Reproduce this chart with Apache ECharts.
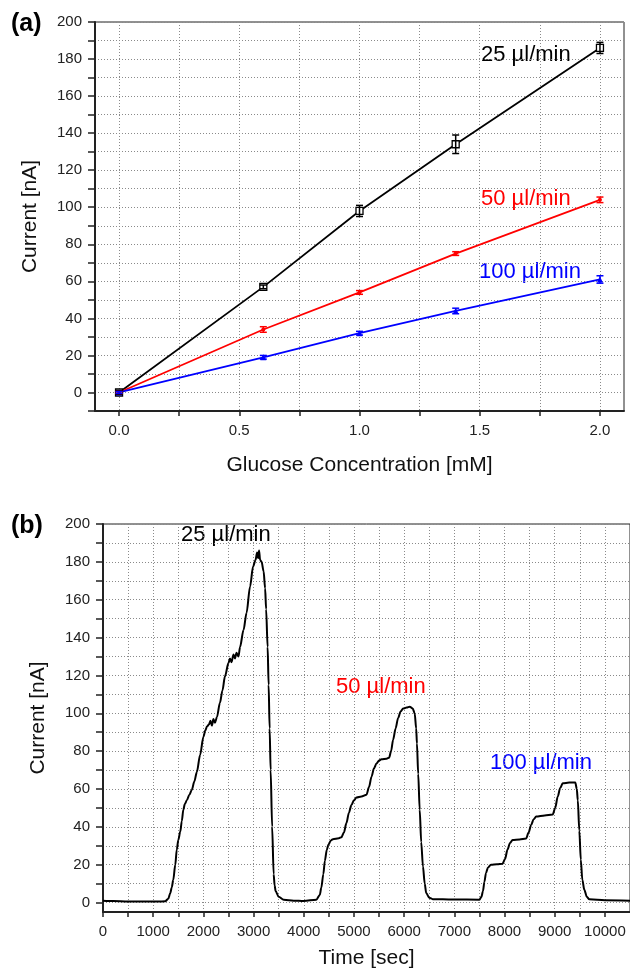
<!DOCTYPE html>
<html>
<head>
<meta charset="utf-8">
<script src="https://cdn.jsdelivr.net/npm/echarts@6/dist/echarts.min.js"></script>
<style>
  html, body { margin: 0; padding: 0; background: #fff; }
  #main { width: 630px; height: 973px; }
</style>
</head>
<body>
<div id="main"></div>
<script>
// (a) calibration data
var conc = [0, 0.6, 1.0, 1.4, 2.0];
var cur25 = [0, 57, 98, 134, 186];
var err25 = [1, 1, 3, 5, 3];
var cur50 = [0, 34, 54, 75, 104];
var err50 = [0.5, 1.5, 1, 1, 1.5];
var cur100 = [0, 19, 32, 44, 61];
var err100 = [0.5, 1, 1, 1.5, 2];

// (b) time trace
var timeSec = [0, 200, 500, 800, 1100, 1240, 1300, 1340, 1370, 1400, 1440, 1470, 1500, 1540, 1570, 1600, 1630,
  1670, 1720, 1770, 1820, 1870, 1935, 2000, 2040, 2070, 2110, 2140, 2170, 2200, 2230, 2270, 2330, 2380, 2430,
  2500, 2530, 2560, 2600, 2630, 2660, 2700, 2730, 2800, 2860, 2930, 2990, 3040, 3070, 3090, 3110, 3130, 3160,
  3200, 3230, 3250, 3280, 3300, 3320, 3340, 3370, 3400, 3420, 3440, 3500, 3600, 3800, 4000, 4250,
  4320, 4350, 4390, 4420, 4460, 4490, 4540, 4580, 4700, 4750, 4800, 4850, 4900, 4950, 5000, 5050, 5150, 5250,
  5300, 5350, 5400, 5450, 5500, 5550, 5650, 5700, 5740, 5780, 5830, 5880, 5930, 5980, 6050, 6110, 6170, 6210,
  6240, 6255, 6280, 6310, 6340, 6375, 6410, 6440, 6500, 6570, 6770, 7000, 7500,
  7540, 7570, 7600, 7630, 7670, 7730, 7850, 7960, 8010, 8060, 8110, 8160, 8300, 8430, 8480, 8530, 8580, 8630,
  8800, 8960, 9010, 9060, 9110, 9160, 9290, 9410, 9440, 9460, 9490, 9520, 9550, 9590, 9640, 9690, 10000, 10500];
var currentNA = [1, 0.8, 0.6, 0.5, 0.5, 0.7, 2, 5, 8, 12, 20, 28, 33, 37.5, 43, 49, 52,
  54, 57, 59.5, 64, 69, 78, 87.5, 91, 93, 94, 96, 93.5, 97, 95, 98, 105.5, 112, 119.5,
  126.5, 129, 127, 131, 129, 132, 130, 135, 144, 153, 167, 177.5, 181, 185, 182, 186, 181, 180,
  175, 166, 155, 135, 115, 92, 70, 40, 15, 9, 6, 3, 1.5, 1, 0.8, 1.5,
  4, 8, 15, 22, 28, 30.5, 32.8, 33.5, 34, 34.5, 37, 42, 47.5, 51.5, 54, 55.5, 56, 57,
  61, 66.5, 71, 73.5, 75, 75.7, 76, 76.5, 80, 86, 92, 97.5, 101, 102.5, 103, 103.5, 102.5, 100,
  92, 84, 68, 49, 32, 19, 10, 5, 2.5, 1.8, 1.7, 1.6, 1.5,
  3, 6, 11, 15.5, 18.5, 20, 20.2, 20.5, 23, 28, 31.5, 33, 33.3, 33.8, 37, 41, 44, 45.4,
  46, 46.5, 50, 56, 60.5, 63, 63.4, 63.4, 60, 54, 38, 22.6, 12, 6.7, 3, 1.7, 1.2, 1];

var xTicksA = [0, 0.25, 0.5, 0.75, 1.0, 1.25, 1.5, 1.75, 2.0];
var xLabelsA = [0, 0.5, 1.0, 1.5, 2.0];
var yTicksB = [0, 10, 20, 30, 40, 50, 60, 70, 80, 90, 100, 110, 120, 130, 140, 150, 160, 170, 180, 190, 200];
var yLabelsB = [0, 20, 40, 60, 80, 100, 120, 140, 160, 180, 200];

var FONT = "'Liberation Sans', Arial, sans-serif";

function pairs(xs, ys) {
  var out = [];
  for (var i = 0; i < xs.length; i++) out.push([xs[i], ys[i]]);
  return out;
}
function errData(xs, ys, es) {
  var out = [];
  for (var i = 0; i < xs.length; i++) out.push([xs[i], ys[i] - es[i], ys[i] + es[i]]);
  return out;
}
function errRender(params, api) {
  var x = api.value(0);
  var lo = api.coord([x, api.value(1)]);
  var hi = api.coord([x, api.value(2)]);
  var st = { stroke: api.visual('color'), lineWidth: 1.5 };
  var w = 3.5;
  return {
    type: 'group',
    children: [
      { type: 'line', shape: { x1: lo[0], y1: lo[1], x2: hi[0], y2: hi[1] }, style: st },
      { type: 'line', shape: { x1: lo[0] - w, y1: lo[1], x2: lo[0] + w, y2: lo[1] }, style: st },
      { type: 'line', shape: { x1: hi[0] - w, y1: hi[1], x2: hi[0] + w, y2: hi[1] }, style: st }
    ]
  };
}

var gridLine = { show: true, lineStyle: { color: '#8a8a8a', type: [1, 2], width: 1 } };
var axisLineStyle = { show: true, onZero: false, lineStyle: { color: '#222', width: 2 } };
var labelStyle = { color: '#222', fontSize: 15, fontFamily: FONT };
var nameStyle = { color: '#111', fontSize: 21, fontFamily: FONT };

var option = {
  animation: false,
  backgroundColor: '#fff',
  grid: [
    { left: 95, top: 22, right: 6, height: 389, show: true, borderColor: '#222', borderWidth: 1, outerBoundsMode: 'none' },
    { left: 103, top: 524, right: 0, height: 388, show: true, borderColor: '#222', borderWidth: 1, outerBoundsMode: 'none' }
  ],
  xAxis: [
    {
      gridIndex: 0, type: 'value', min: -0.1, max: 2.1,
      name: 'Glucose Concentration [mM]', nameLocation: 'middle', nameGap: 44, nameTextStyle: nameStyle,
      axisLine: axisLineStyle,
      axisTick: { show: true, customValues: xTicksA, length: 5, lineStyle: { color: '#222', width: 1.5 } },
      axisLabel: Object.assign({ customValues: xLabelsA, margin: 12, formatter: function (v) { return v.toFixed(1); } }, labelStyle),
      splitLine: gridLine
    },
    {
      gridIndex: 1, type: 'value', min: 0, max: 10500, interval: 500,
      name: 'Time [sec]', nameLocation: 'middle', nameGap: 36, nameTextStyle: nameStyle,
      axisLine: axisLineStyle,
      axisTick: { show: true, length: 5, lineStyle: { color: '#222', width: 1.5 } },
      axisLabel: Object.assign({ margin: 12, showMaxLabel: false, formatter: function (v) { return v % 1000 === 0 ? String(v) : ''; } }, labelStyle),
      splitLine: gridLine
    }
  ],
  yAxis: [
    {
      gridIndex: 0, type: 'value', min: -10, max: 200, interval: 10,
      name: 'Current [nA]', nameLocation: 'middle', nameGap: 54, nameTextStyle: nameStyle,
      axisLine: axisLineStyle,
      axisTick: { show: true, length: 7, lineStyle: { color: '#222', width: 1.5 } },
      axisLabel: Object.assign({ margin: 13, formatter: function (v) { return v % 20 === 0 ? String(v) : ''; } }, labelStyle),
      splitLine: gridLine
    },
    {
      gridIndex: 1, type: 'value', min: -5, max: 200,
      name: 'Current [nA]', nameLocation: 'middle', nameGap: 54, nameTextStyle: nameStyle,
      axisLine: axisLineStyle,
      axisTick: { show: true, customValues: yTicksB, length: 7, lineStyle: { color: '#222', width: 1.5 } },
      axisLabel: Object.assign({ customValues: yLabelsB, margin: 13 }, labelStyle),
      splitLine: gridLine
    }
  ],
  series: [
    { name: '25', type: 'line', xAxisIndex: 0, yAxisIndex: 0, data: pairs(conc, cur25), z: 3,
      lineStyle: { color: '#000', width: 1.8 }, symbol: 'rect', symbolSize: 7,
      itemStyle: { color: '#fff', borderColor: '#000', borderWidth: 1.3 } },
    { name: '50', type: 'line', xAxisIndex: 0, yAxisIndex: 0, data: pairs(conc, cur50), z: 3,
      lineStyle: { color: '#ff0000', width: 1.8 }, symbol: 'circle', symbolSize: 4,
      itemStyle: { color: '#ff0000' } },
    { name: '100', type: 'line', xAxisIndex: 0, yAxisIndex: 0, data: pairs(conc, cur100), z: 3,
      lineStyle: { color: '#0000ff', width: 1.8 }, symbol: 'triangle', symbolSize: 6,
      itemStyle: { color: '#0000ff' } },
    { type: 'custom', xAxisIndex: 0, yAxisIndex: 0, renderItem: errRender, data: errData(conc, cur25, err25),
      itemStyle: { color: '#000' }, z: 4 },
    { type: 'custom', xAxisIndex: 0, yAxisIndex: 0, renderItem: errRender, data: errData(conc, cur50, err50),
      itemStyle: { color: '#ff0000' }, z: 4 },
    { type: 'custom', xAxisIndex: 0, yAxisIndex: 0, renderItem: errRender, data: errData(conc, cur100, err100),
      itemStyle: { color: '#0000ff' }, z: 4 },
    { name: 'trace', type: 'line', xAxisIndex: 1, yAxisIndex: 1, data: pairs(timeSec, currentNA),
      showSymbol: false, smooth: 0.3, smoothMonotone: 'x',
      lineStyle: { color: '#000', width: 2 } }
  ],
  graphic: [
    { type: 'text', left: 11, top: 12, style: { text: '(a)', font: 'bold 25px ' + FONT, fill: '#000' } },
    { type: 'text', left: 11, top: 514, style: { text: '(b)', font: 'bold 25px ' + FONT, fill: '#000' } },
    { type: 'text', x: 481, y: 55, style: { text: '25 µl/min', font: '22px ' + FONT, fill: '#000', textVerticalAlign: 'middle' } },
    { type: 'text', x: 481, y: 199, style: { text: '50 µl/min', font: '22px ' + FONT, fill: '#ff0000', textVerticalAlign: 'middle' } },
    { type: 'text', x: 479, y: 272, style: { text: '100 µl/min', font: '22px ' + FONT, fill: '#0000ff', textVerticalAlign: 'middle' } },
    { type: 'text', x: 181, y: 535, style: { text: '25 µl/min', font: '22px ' + FONT, fill: '#000', textVerticalAlign: 'middle' } },
    { type: 'text', x: 336, y: 687, style: { text: '50 µl/min', font: '22px ' + FONT, fill: '#ff0000', textVerticalAlign: 'middle' } },
    { type: 'text', x: 490, y: 763, style: { text: '100 µl/min', font: '22px ' + FONT, fill: '#0000ff', textVerticalAlign: 'middle' } }
  ]
};

var myChart = echarts.init(document.getElementById('main'));
myChart.setOption(option);
</script>
</body>
</html>
